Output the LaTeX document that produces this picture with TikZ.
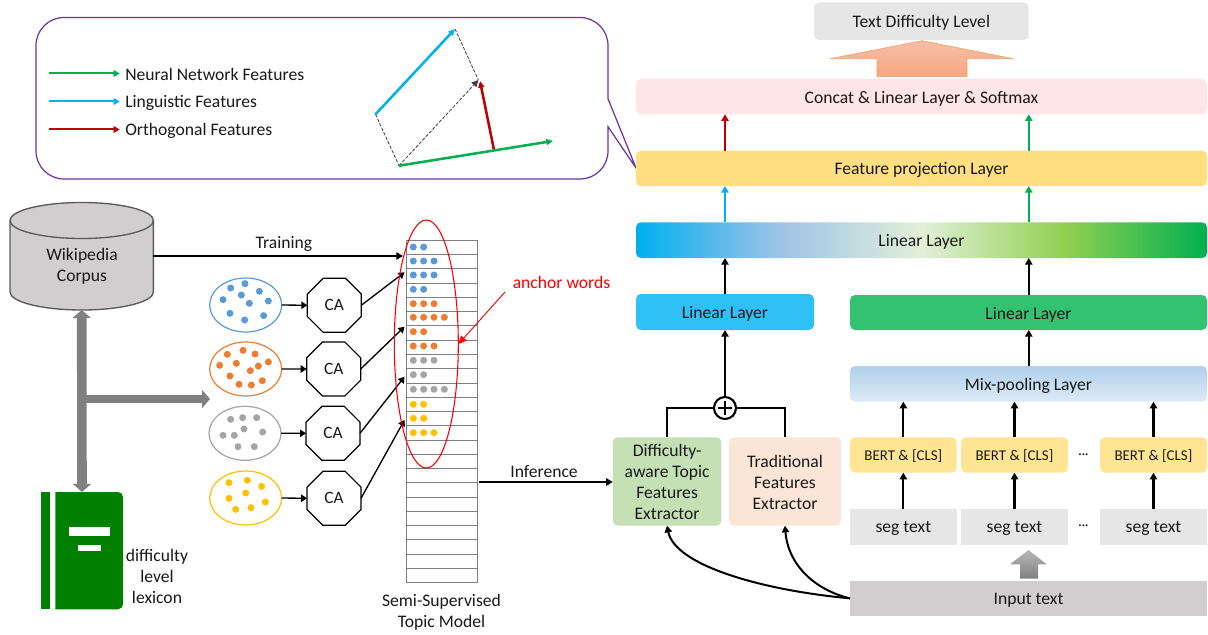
\documentclass[tikz,border=0pt]{standalone}
\usepackage{fontspec}
\setmainfont{Carlito}
\usetikzlibrary{arrows.meta,shapes.geometric,calc}
\definecolor{cgreen}{HTML}{00B050}
\definecolor{cblue}{HTML}{00B0F0}
\definecolor{cred}{HTML}{C00000}
\definecolor{cpurple}{HTML}{7030A0}
\definecolor{dblue}{HTML}{5B9BD5}
\definecolor{dorange}{HTML}{ED7D31}
\definecolor{dgray}{HTML}{A5A5A5}
\definecolor{dyellow}{HTML}{FFC000}
\definecolor{lgray}{HTML}{E7E6E6}
\definecolor{mgray}{HTML}{D0CECE}
\definecolor{bookgreen}{HTML}{008000}
\definecolor{bertfill}{HTML}{FFE494}
\definecolor{projfill}{HTML}{FFDF80}
\definecolor{concatfill}{HTML}{FFE5E5}
\definecolor{lbfill}{HTML}{2FC0F5}
\definecolor{lgfill}{HTML}{33C172}
\definecolor{extfill}{HTML}{C5E0B4}
\definecolor{tradfill}{HTML}{FBE5D6}
\definecolor{mixtop}{HTML}{B0D0EC}
\definecolor{mixbot}{HTML}{DEEAF6}
\definecolor{fattop}{HTML}{F6BFA6}
\definecolor{fatbot}{HTML}{F6A682}
\definecolor{fatline}{HTML}{F4A66E}
\pgfdeclarehorizontalshading{linshade}{100bp}{rgb(0bp)=(0,.69,.94);rgb(25bp)=(0,.69,.94);rgb(37.5bp)=(.616,.765,.902);rgb(50bp)=(.886,.941,.851);rgb(62.5bp)=(.573,.816,.314);rgb(75bp)=(0,.69,.314);rgb(100bp)=(0,.69,.314)}
\tikzset{
  txt/.style={font=\fontsize{13.2}{15.75}\selectfont,align=center,inner sep=0pt,text=black!90},
  bertxt/.style={txt,font=\fontsize{11.2}{13}\selectfont},
  box/.style={rounded corners=3.75pt,inner sep=0pt,outer sep=0pt},
  sqbox/.style={inner sep=0pt,outer sep=0pt},
  blk/.style={-{Triangle[width=5.5pt,length=5pt]},line width=1.6pt,black},
  conn/.style={-{Triangle[width=5.5pt,length=4.5pt]},line width=1pt,black},
  col arrow/.style={-{Triangle[width=5.5pt,length=5pt]},line width=1.5pt},
  leg arrow/.style={-{Triangle[width=5pt,length=4.5pt]},line width=1.5pt},
  vec/.style={-{Triangle[width=4.5pt,length=5pt]},line width=1.9pt},
  dsh/.style={dash pattern=on 2.5pt off 1.2pt,line width=.6pt,black!75},
  grey arrow/.style={line width=7.2pt,draw=black!50},
  blob/.style={ellipse,line width=.9pt,minimum width=54pt,minimum height=40.5pt,inner sep=0pt,outer sep=0pt},
  octa/.style={regular polygon,regular polygon sides=8,draw=black,line width=.9pt,minimum size=43.8pt,inner sep=0pt,outer sep=0pt,font=\fontsize{13}{15}\selectfont,text=black!90},
}
\newcommand{\bx}[7]{%
  \pgfmathsetmacro{\bw}{(#4-#2)*0.75}\pgfmathsetmacro{\bh}{(#5-#3)*0.75}%
  \node[#6,minimum width=\bw pt,minimum height=\bh pt] (#1) at ({(#2+#4)/2},{(#3+#5)/2}) {};
  \node[txt] at ([yshift=-1.5pt]#1.center) {#7};}
\newcommand{\bxm}[7]{%
  \pgfmathsetmacro{\bw}{(#4-#2)*0.75}\pgfmathsetmacro{\bh}{(#5-#3)*0.75}%
  \node[#6,minimum width=\bw pt,minimum height=\bh pt] (#1) at ({(#2+#4)/2},{(#3+#5)/2}) {};
  \node[txt] at ([yshift=-.7pt]#1.center) {#7};}
\newcommand{\bxb}[6]{%
  \pgfmathsetmacro{\bw}{(#4-#2)*0.75}\pgfmathsetmacro{\bh}{(#5-#3)*0.75}%
  \node[#6,minimum width=\bw pt,minimum height=\bh pt] (#1) at ({(#2+#4)/2},{(#3+#5)/2}) {};
  \node[bertxt] at ([yshift=-1pt]#1.center) {BERT \& [CLS]};}
\begin{document}
\begin{tikzpicture}[x=0.75pt,y=-0.75pt]
\useasboundingbox (0,0) rectangle (1208,635);
\fill[white] (0,0) rectangle (1208,635);

% callout
\draw[cpurple,line width=.9pt,fill=white,rounded corners=21pt] (36,98) -- (36,17.5) -- (608,17.5) [sharp corners] -- (608,98.7) -- (636,168) -- (608,126.7) [rounded corners=21pt] -- (608,179) -- (36,179) -- cycle;
\node[txt,anchor=west] (lg1) at (125,74) {Neural Network Features};
\node[txt,anchor=west] (lg2) at (125,103) {Linguistic Features};
\node[txt,anchor=west] (lg3) at (125,130.5) {Orthogonal Features};
\coordinate (l1) at (49,73.5);\coordinate (l2) at (49,101.5);\coordinate (l3) at (49,129.5);
\draw[leg arrow,cgreen] (l1) -- ([xshift=-4pt]lg1.west |- l1);
\draw[leg arrow,cblue] (l2) -- ([xshift=-4pt]lg2.west |- l2);
\draw[leg arrow,cred] (l3) -- ([xshift=-4pt]lg3.west |- l3);
\coordinate (va) at (375.5,114.3);\coordinate (vb) at (455,29);\coordinate (vc) at (478.4,80);
\coordinate (vo) at (399,165.7);\coordinate (vg) at (553,141);\coordinate (vr) at (494,150);\coordinate (vt) at (480,81);
\draw[dsh] (vb) -- (vc);
\draw[dsh] (va) -- (vo);
\draw[dsh,-{Triangle[width=5pt,length=5pt]}] (vo) -- (vc);
\draw[vec,cblue] (va) -- (vb);
\draw[vec,cred] (vr) -- (vt);
\draw[vec,cgreen] (vo) -- (vg);

% cylinder
\draw[fill=mgray,draw=black!65,line width=1pt] (10,220.5) -- (10,292) arc[start angle=180,end angle=0,x radius=71.7,y radius=18] -- (153.4,220.5) arc[start angle=0,end angle=-180,x radius=71.7,y radius=18] -- cycle;
\draw[draw=black!65,line width=1pt] (10,220.5) arc[start angle=180,end angle=0,x radius=71.7,y radius=18];
\node[txt] (corpuslbl) at (82,266.5) {Wikipedia\\Corpus};
\node[inner sep=0pt,outer sep=0pt,minimum width=107.5pt,minimum height=81pt] (corpus) at (81.7,256) {};

% book
\node[inner sep=0pt,outer sep=0pt,minimum width=61.5pt,minimum height=88pt] (book) at (82,550.6) {};
\fill[bookgreen] (40.7,492) rectangle (49.7,609.3);
\fill[bookgreen,rounded corners=3.75pt] (55.3,492) [sharp corners] -- (55.3,609.3) [rounded corners=3.75pt] -- (123,609.3) -- (123,492) [sharp corners] -- cycle;
\fill[white] (68.7,527.3) rectangle (110,536);
\fill[white] (78.3,544.7) rectangle (101,550.7);
\node[txt] (booklbl) at (157,576) {difficulty\\level\\lexicon};

% grey arrows
\draw[grey arrow,{Triangle[width=13.5pt,length=6pt]}-{Triangle[width=13.5pt,length=6pt]}] (corpus.south) -- (book.north);
\coordinate (gj) at (85,399);
\coordinate (gend) at (210,399);
\draw[grey arrow,line width=6pt,-{Triangle[width=13.5pt,length=6pt]}] (gj) -- (gend);

% table
\node[draw=black!50,line width=.8pt,inner sep=0pt,outer sep=0pt,minimum width=53.25pt,minimum height=257pt] (tbl) at (441.8,411.6) {};
\foreach \i in {1,...,23} \draw[black!50,line width=.75pt] (406.3,{240.3+14.27*\i}) -- (477.3,{240.3+14.27*\i});
\foreach \yy/\cc/\nn in {247/dblue/2,261/dblue/3,275/dblue/3,289.3/dblue/2,303.7/dorange/3,317.3/dorange/4,331.7/dorange/2,346/dorange/3,360.3/dgray/3,374.7/dgray/2,389.3/dgray/4,404.3/dyellow/2,418.3/dyellow/2,432.7/dyellow/3}{
  \foreach \k in {1,...,\nn} \fill[\cc] ({413.3+10.35*(\k-1)},\yy) circle (3.5);
}

% blobs
\node[blob,draw=dblue] (e1) at (245.7,305) {};
\node[blob,draw=dorange] (e2) at (245.7,369) {};
\node[blob,draw=dgray] (e3) at (245,433.3) {};
\node[blob,draw=dyellow] (e4) at (245.7,498) {};
\begin{scope}[shift={(200,210)},x=0.25pt,y=-0.25pt]
\foreach \p in {(135,221),(92,234),(178,244),(124,255),(69,269),(205,273),(148,280),(90,310),(191,317),(134,330)} \fill[dblue] \p circle (10.5);
\foreach \p in {(129,421),(82,433),(165,432),(205,456),(109,460),(59,466),(175,468),(151,482),(90,498),(187,512),(117,523),(154,525)} \fill[dorange] \p circle (10.5);
\foreach \p in {(128,623),(92,628),(170,623),(132,657),(188,666),(69,676),(103,676),(114,710),(163,710)} \fill[dgray] \p circle (10.5);
\foreach \p in {(142,811),(87,818),(185,829),(137,849),(87,865),(196,876),(153,893),(107,898)} \fill[dyellow] \p circle (10.5);
\end{scope}
\node[octa] (ca1) at (334.3,305.3) {\raisebox{-.7pt}{CA}};
\node[octa] (ca2) at (333.7,369) {\raisebox{-.7pt}{CA}};
\node[octa] (ca3) at (333,433.3) {\raisebox{-.7pt}{CA}};
\node[octa] (ca4) at (334,498.3) {\raisebox{-.7pt}{CA}};
\foreach \i in {1,2,3,4} \draw[conn] (e\i.east) -- (ca\i.west);
\coordinate (t1) at (404.5,272.3);\coordinate (t2) at (404.5,326.7);\coordinate (t3) at (404.5,376.7);\coordinate (t4) at (404.5,420);
\draw[conn] (ca1.east) -- (t1);
\draw[conn] (ca2.east) -- (t2);
\draw[conn] (ca3.east) -- (t3);
\draw[conn] (ca4.east) -- (t4);

% red ellipse and label
\node[ellipse,draw=red,line width=.8pt,minimum width=48pt,minimum height=186pt,inner sep=0pt,outer sep=0pt] (anchorell) at (426.3,344) {};
\node[txt,text=red] (anchorlbl) at (561.5,282) {anchor words};
\coordinate (redstart) at (505,292);
\coordinate (redend) at (458.5,344);
\draw[red,line width=.7pt,-{Triangle[width=5.5pt,length=6pt]}] (redstart) -- (redend);

% training/inference
\coordinate (trainend) at (403,256);
\draw[blk,line width=1.5pt] (corpus.east |- trainend) -- (trainend);
\node[txt] (trainlbl) at (284,244) {Training};
\coordinate (infstart) at (479,482);
\node[txt] (inflbl) at (544,472) {Inference};
\node[txt] (semilbl) at (441.5,612) {Semi-Supervised\\Topic Model};

% right column
\bx{out}{814}{2.3}{1028.7}{40}{box,fill=lgray}{Text Difficulty Level}
\path[draw=fatline,line width=.5pt,top color=fattop,bottom color=fatbot] (922,40.7) -- (1013,58.7) -- (967,58.7) -- (967,76.7) -- (877,76.7) -- (877,58.7) -- (830,58.7) -- cycle;
\bx{concat}{636}{79}{1207}{114.3}{box,fill=concatfill}{Concat \& Linear Layer \& Softmax}
\bx{proj}{636}{150.7}{1207}{186}{box,fill=projfill}{Feature projection Layer}
\bx{lin}{636}{222.3}{1207}{258}{box,shading=linshade}{Linear Layer}
\bx{linb}{636}{294}{814}{330}{box,fill=lbfill}{Linear Layer}
\bx{ling}{850}{295}{1207}{330}{box,fill=lgfill}{Linear Layer}
\bx{mix}{850}{366}{1207}{401.7}{box,top color=mixtop,bottom color=mixbot}{Mix-pooling Layer}
\bxb{b1}{850}{437.3}{956.7}{472.7}{box,fill=bertfill}
\bxb{b2}{961}{437.3}{1068}{472.7}{box,fill=bertfill}
\bxb{b3}{1100}{437.3}{1207}{472.7}{box,fill=bertfill}
\bx{s1}{850}{509}{956.7}{544.7}{sqbox,fill=lgray}{seg text}
\bx{s2}{961}{509}{1068}{544.7}{sqbox,fill=lgray}{seg text}
\bx{s3}{1100}{509}{1207}{544.7}{sqbox,fill=lgray}{seg text}
\bx{inp}{850}{580.7}{1207}{616}{sqbox,fill=mgray}{Input text}
\node[txt,font=\fontsize{10}{12}\selectfont] (d1) at (1083.5,456) {···};
\node[txt,font=\fontsize{10}{12}\selectfont] (d2) at (1083.5,527) {···};
\path[top color=black!28,bottom color=black!50] (1028.5,550) -- (1046.7,564.3) -- (1038,564.3) -- (1038,578.7) -- (1020,578.7) -- (1020,564.3) -- (1010,564.3) -- cycle;
\bxm{ext}{612.8}{437.3}{721.4}{525.7}{box,fill=extfill}{Difficulty-\\aware Topic\\Features\\Extractor}
\bxm{trad}{729}{437.3}{841}{525.7}{box,fill=tradfill}{Traditional\\Features\\Extractor}
\coordinate (colA) at (725,0);
\coordinate (colB) at (1028.8,0);
\coordinate (extT) at (667,437.3);
\coordinate (extB) at (667,525.7);
\node[circle,draw=black,line width=1.6pt,fill=white,minimum size=16.5pt,inner sep=0pt,outer sep=0pt] (plus) at (725,408) {};
\draw[line width=1.6pt] ([xshift=-5.5pt]plus.center) -- ([xshift=5.5pt]plus.center) ([yshift=-5.5pt]plus.center) -- ([yshift=5.5pt]plus.center);
\draw[line width=1.6pt] (plus.west) -| (extT);
\draw[line width=1.6pt] (plus.east) -| (trad.north);

% arrows
\draw[blk] (plus.north) -- (linb.south -| plus.north);
\draw[blk] (linb.north -| colA) -- (lin.south -| colA);
\draw[blk] (ling.north -| colB) -- (lin.south -| colB);
\draw[col arrow,cblue] (lin.north -| colA) -- (proj.south -| colA);
\draw[col arrow,cgreen] (lin.north -| colB) -- (proj.south -| colB);
\draw[col arrow,cred] (proj.north -| colA) -- (concat.south -| colA);
\draw[col arrow,cgreen] (proj.north -| colB) -- (concat.south -| colB);
\draw[blk] (mix.north -| colB) -- (ling.south -| colB);
\foreach \i in {1,2,3}{
  \draw[blk] (s\i.north) -- (b\i.south);
  \draw[blk] (b\i.north) -- (mix.south -| b\i.north);
}
\draw[blk] (infstart) -- (ext.west |- infstart);
\draw[blk,line width=1.5pt] (inp.west) .. controls (760,590) and (675,565) .. (extB);
\draw[blk,line width=1.5pt] (inp.west) .. controls (815,590) and (788,565) .. (trad.south);
\end{tikzpicture}
\end{document}
